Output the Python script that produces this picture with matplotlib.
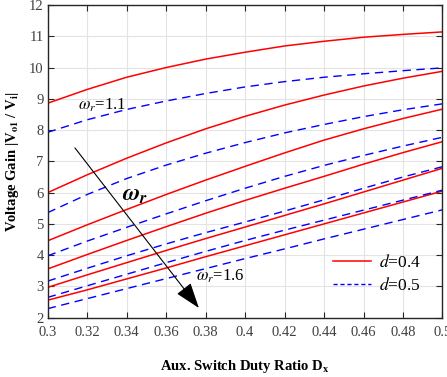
import matplotlib
matplotlib.use("Agg")
import matplotlib.pyplot as plt
from matplotlib.lines import Line2D

plt.rcParams['font.family'] = ['Liberation Serif', 'DejaVu Serif']
plt.rcParams['mathtext.fontset'] = 'stix'

# Duty ratio samples
dx = [0.30, 0.32, 0.34, 0.36, 0.38, 0.40, 0.42, 0.44, 0.46, 0.48, 0.50]

# d = 0.4 (red solid), omega_r = 1.1 ... 1.6
red_1 = [8.86, 9.30, 9.69, 10.00, 10.27, 10.49, 10.69, 10.84, 10.97, 11.06, 11.14]
red_2 = [6.00, 6.57, 7.10, 7.59, 8.04, 8.44, 8.80, 9.12, 9.41, 9.66, 9.88]
red_3 = [4.46, 4.97, 5.46, 5.94, 6.40, 6.84, 7.27, 7.68, 8.04, 8.37, 8.67]
red_4 = [3.56, 4.02, 4.47, 4.91, 5.34, 5.75, 6.14, 6.52, 6.91, 7.28, 7.63]
red_5 = [2.97, 3.37, 3.76, 4.15, 4.53, 4.90, 5.27, 5.64, 6.02, 6.40, 6.78]
red_6 = [2.56, 2.89, 3.24, 3.59, 3.95, 4.30, 4.65, 5.00, 5.35, 5.70, 6.05]

# d = 0.5 (blue dashed)
blue_1 = [7.93, 8.33, 8.66, 8.93, 9.17, 9.38, 9.55, 9.69, 9.80, 9.90, 9.99]
blue_2 = [5.36, 5.94, 6.45, 6.88, 7.26, 7.60, 7.91, 8.18, 8.43, 8.65, 8.84]
blue_3 = [3.98, 4.45, 4.89, 5.32, 5.74, 6.14, 6.52, 6.87, 7.19, 7.49, 7.77]
blue_4 = [3.17, 3.58, 3.98, 4.36, 4.72, 5.06, 5.41, 5.77, 6.14, 6.50, 6.83]
blue_5 = [2.65, 3.02, 3.39, 3.76, 4.12, 4.47, 4.80, 5.12, 5.44, 5.76, 6.08]
blue_6 = [2.29, 2.61, 2.93, 3.25, 3.57, 3.89, 4.20, 4.52, 4.83, 5.14, 5.45]

red_series = [red_1, red_2, red_3, red_4, red_5, red_6]
blue_series = [blue_1, blue_2, blue_3, blue_4, blue_5, blue_6]

xticks = [0.30, 0.32, 0.34, 0.36, 0.38, 0.40, 0.42, 0.44, 0.46, 0.48, 0.50]
xticklabels = ['0.3', '0.32', '0.34', '0.36', '0.38', '0.4', '0.42', '0.44', '0.46', '0.48', '0.5']
yticks = [2, 3, 4, 5, 6, 7, 8, 9, 10, 11, 12]

fig = plt.figure(figsize=(4.47, 3.77), dpi=100)
ax = fig.add_axes([0.1067, 0.1573, 0.8832, 0.8294])

for s in red_series:
    ax.plot(dx, s, color='#ff0000', lw=1.1, solid_capstyle='butt')
for s in blue_series:
    ax.plot(dx, s, color='#0000ff', lw=1.0, ls=(0, (6, 4)))

ax.set_xlim(0.3, 0.5)
ax.set_ylim(2, 12)
ax.set_xticks(xticks)
ax.set_xticklabels(xticklabels)
ax.set_yticks(yticks)
ax.grid(True, color='#e3e3e3', lw=0.8)
ax.set_axisbelow(True)
ax.tick_params(direction='in', top=True, right=True, length=4, width=0.8,
               labelsize=10.5, labelcolor='#404040', color='#262626')
ax.tick_params(axis='x', pad=6)
ax.tick_params(axis='y', pad=3)
for sp in ax.spines.values():
    sp.set_color('#262626')
    sp.set_linewidth(1.0)

ax.set_xlabel(r'Aux. Switch Duty Ratio D$_\mathbf{x}$', fontsize=10.5,
              fontweight='bold', labelpad=14)
ax.set_ylabel(r'Voltage Gain |V$_\mathbf{o1}$ / V$_\mathbf{i}$|', fontsize=10.5,
              fontweight='bold', labelpad=6)

ax.text(0.3153, 8.80, r'$\omega_r$=1.1', fontsize=12, va='center', ha='left')
ax.text(0.3751, 3.31, r'$\omega_r$=1.6', fontsize=12, va='center', ha='left')
ax.text(0.3378, 5.92, r'$\mathbfit{\omega_r}$', fontsize=17, va='center', ha='left')

ax.annotate('', xy=(0.3766, 2.31), xytext=(0.3138, 7.43),
            arrowprops=dict(arrowstyle='-|>,head_length=1.6,head_width=0.55',
                            color='black', lw=0.8, shrinkA=0, shrinkB=0))

handles = [Line2D([], [], color='#ff0000', lw=1.1),
           Line2D([], [], color='#0000ff', lw=1.0, ls=(0, (3, 2)))]
ax.legend(handles, [r'$d$=0.4', r'$d$=0.5'], loc='upper left',
          bbox_to_anchor=(0.7225, 0.205), frameon=False, fontsize=12.5,
          handlelength=2.2, handletextpad=0.45, labelspacing=0.35,
          borderpad=0, borderaxespad=0)

fig.savefig('out.png', dpi=100)
